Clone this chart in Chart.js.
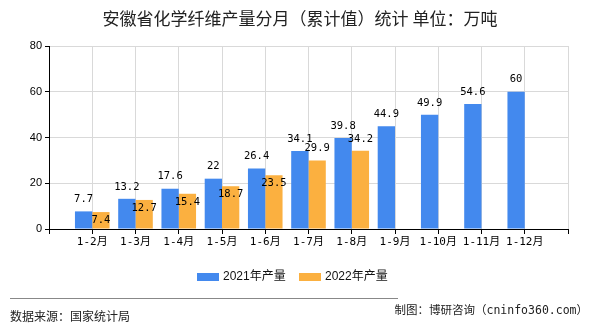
<!DOCTYPE html>
<html><head><meta charset="utf-8">
<script src="https://cdn.jsdelivr.net/npm/chart.js@4"></script>
<style>html,body{margin:0;padding:0;background:#fff}#wrap{width:590px;height:330px}</style>
</head><body><div id="wrap"><canvas id="c" width="590" height="330"></canvas></div>
<script>
const categories = ['1-2月','1-3月','1-4月','1-5月','1-6月','1-7月','1-8月','1-9月','1-10月','1-11月','1-12月'];
const values2021 = [7.7, 13.2, 17.6, 22, 26.4, 34.1, 39.8, 44.9, 49.9, 54.6, 60];
const values2022 = [7.4, 12.7, 15.4, 18.7, 23.5, 29.9, 34.2, null, null, null, null];
const seriesNames = ['2021年产量', '2022年产量'];
const yTicks = [0, 20, 40, 60, 80];
const titleText = '安徽省化学纤维产量分月（累计值）统计 单位：万吨';
const sourceText = '数据来源：国家统计局';
const creditText = '制图：博研咨询（cninfo360.com）';

const BLUE = '#4389ee';
const ORANGE = '#fbb040';
const GRID = '#d9d9d9';
const CJK = '"Noto Sans CJK SC"';

const labels = [''].concat(categories, ['']);
const pad = arr => [null].concat(arr, [null]);

const decorPlugin = {
  id: 'decor',
  afterDatasetsDraw(chart) {
    const ctx = chart.ctx;
    const m0 = chart.getDatasetMeta(0), m1 = chart.getDatasetMeta(1);
    const d0 = chart.data.datasets[0].data, d1 = chart.data.datasets[1].data;
    ctx.save();
    ctx.font = '10.5px "DejaVu Sans Mono"';
    ctx.fillStyle = '#000';
    ctx.textAlign = 'center';
    ctx.textBaseline = 'middle';
    m0.data.forEach((el, i) => {
      if (d0[i] == null) return;
      ctx.fillText(String(d0[i]), el.x, el.y - 12);
    });
    m1.data.forEach((el, i) => {
      if (d1[i] == null) return;
      const blueY = m0.data[i].y;
      const inside = (el.y - blueY) < 9;
      ctx.fillText(String(d1[i]), el.x, inside ? el.y + 8 : el.y - 12);
    });
    ctx.restore();
  },
  afterDraw(chart) {
    const ctx = chart.ctx;
    ctx.save();
    ctx.fillStyle = '#222';
    ctx.font = '17px ' + CJK;
    ctx.textAlign = 'center';
    ctx.textBaseline = 'middle';
    ctx.fillText(titleText, 300, 19);
    const items = [[BLUE, seriesNames[0], 197], [ORANGE, seriesNames[1], 299]];
    ctx.font = '12px "Liberation Sans", ' + CJK;
    ctx.textAlign = 'left';
    items.forEach(([c, t, x]) => {
      ctx.fillStyle = c;
      ctx.fillRect(x, 273, 22, 8);
      ctx.fillStyle = '#111';
      ctx.fillText(t, x + 26, 277);
    });
    ctx.strokeStyle = '#888';
    ctx.lineWidth = 1;
    ctx.beginPath();
    ctx.moveTo(10, 298.5);
    ctx.lineTo(398, 298.5);
    ctx.stroke();
    ctx.fillStyle = '#222';
    ctx.font = '12px ' + CJK;
    ctx.fillText(sourceText, 10, 316);
    ctx.textAlign = 'right';
    ctx.font = '11.5px "DejaVu Sans Mono", ' + CJK;
    ctx.fillText(creditText, 588, 311);
    ctx.restore();
  }
};

new Chart(document.getElementById('c'), {
  type: 'bar',
  data: {
    labels: labels,
    datasets: [
      { label: seriesNames[0], data: pad(values2021), backgroundColor: BLUE, categoryPercentage: 0.8, barPercentage: 1 },
      { label: seriesNames[1], data: pad(values2022), backgroundColor: ORANGE, categoryPercentage: 0.8, barPercentage: 1 }
    ]
  },
  options: {
    responsive: false,
    devicePixelRatio: 1,
    animation: false,
    layout: { padding: { left: 0, top: 46, right: 22, bottom: 75 } },
    plugins: { legend: { display: false }, title: { display: false }, tooltip: { enabled: false } },
    scales: {
      x: {
        offset: false,
        grid: {
          color: ctx => ctx.index === 0 ? 'rgba(0,0,0,0)' : GRID,
          tickColor: '#000',
          tickLength: 5,
          offset: false
        },
        border: { color: '#000' },
        ticks: {
          autoSkip: false,
          maxRotation: 0,
          padding: 2,
          color: '#000',
          font: { family: '"DejaVu Sans Mono", "Noto Sans CJK SC"', size: 11 }
        },
        afterFit: s => { s.height = 26; }
      },
      y: {
        min: 0,
        max: 80,
        afterBuildTicks: s => { s.ticks = yTicks.map(v => ({ value: v })); },
        grid: {
          color: ctx => (ctx.tick && ctx.tick.value === 0) ? 'rgba(0,0,0,0)' : GRID,
          tickColor: '#000',
          tickLength: 4
        },
        border: { color: '#000' },
        ticks: {
          padding: 3,
          color: '#000',
          font: { family: '"Liberation Sans"', size: 11 }
        },
        afterFit: s => { s.width = 49; }
      }
    }
  },
  plugins: [decorPlugin]
});
</script>
</body></html>
